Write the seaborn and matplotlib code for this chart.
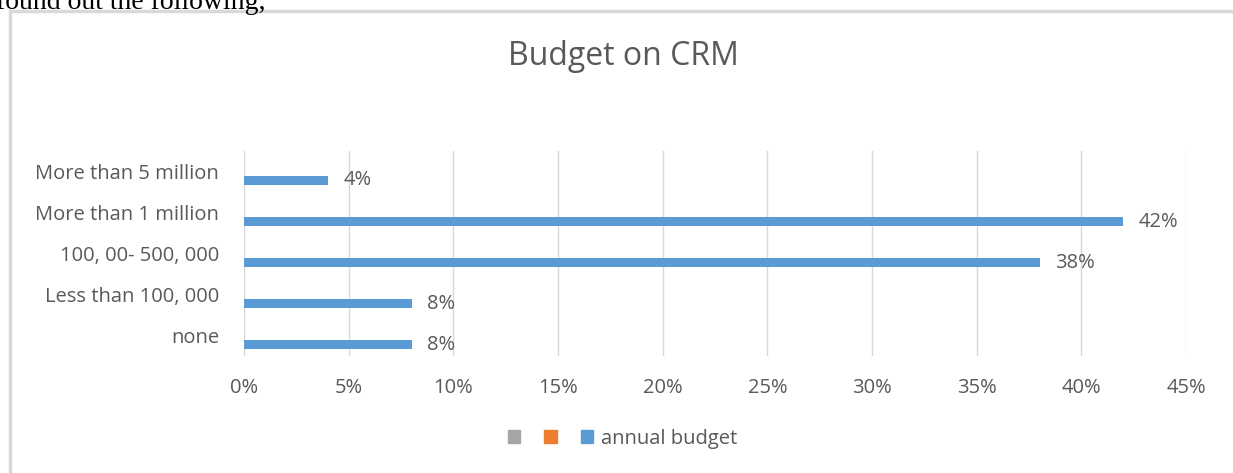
import pandas as pd
import seaborn as sns
import matplotlib.pyplot as plt
import matplotlib.patches as mpatches
from matplotlib.ticker import PercentFormatter

categories = ["More than 5 million", "More than 1 million", "100, 00- 500, 000",
              "Less than 100, 000", "none"]
annual_budget = [4, 42, 38, 8, 8]
series_names = ["Series 1", "Series 2", "annual budget"]

rows = []
for cat, val in zip(categories, annual_budget):
    rows.append({"category": cat, "series": "Series 1", "value": 0})
    rows.append({"category": cat, "series": "Series 2", "value": 0})
    rows.append({"category": cat, "series": "annual budget", "value": val})
df = pd.DataFrame(rows)

sns.set_theme(style="white")
plt.rcParams['font.family'] = ['Open Sans', 'DejaVu Sans']
text_col = "#595959"
colors = ["#a5a5a5", "#ed7d31", "#5b9bd5"]

fig = plt.figure(figsize=(12.33, 4.73), dpi=100)
ax = fig.add_axes([0.198, 0.247, 0.764, 0.434])

sns.barplot(data=df, y="category", x="value", hue="series", hue_order=series_names,
            palette=colors, saturation=1, orient="h", width=0.66, linewidth=0,
            ax=ax, legend=False)

ax.set_xlim(0, 45)
ax.set_xticks(range(0, 46, 5))
ax.xaxis.set_major_formatter(PercentFormatter(decimals=0))
ax.grid(axis="x", color="#d9d9d9", linewidth=1)
ax.set_axisbelow(True)
for s in ax.spines.values():
    s.set_visible(False)
ax.set_xlabel("")
ax.set_ylabel("")
ax.tick_params(axis="both", length=0, labelsize=14.5, labelcolor=text_col)
ax.tick_params(axis="x", pad=16)
ax.tick_params(axis="y", pad=18)

# data labels on the annual budget bars only
ax.bar_label(ax.containers[2], fmt="%d%%", padding=11, fontsize=14.5, color=text_col)

fig.text(0.506, 0.88, "Budget on CRM", ha="center", va="center", fontsize=23, color=text_col)

handles = [mpatches.Patch(color=c) for c in colors]
fig.legend(handles, ["", "", "annual budget"], loc="center", bbox_to_anchor=(0.505, 0.072),
           ncol=3, frameon=False, fontsize=14.5, handlelength=0.6, handleheight=0.6,
           columnspacing=0.8, handletextpad=0.4, labelcolor=text_col)

# outer chart frame and the cut-off sentence above it
fig.add_artist(mpatches.Rectangle((10 / 1233, -0.01), 1.0, 1 - 11 / 473 + 0.01,
                                  transform=fig.transFigure, fill=False,
                                  edgecolor="#d9d9d9", linewidth=2.5))
fig.text(-0.003, 0.995, "found out the following,", ha="left", va="center",
         fontsize=20, family="Liberation Serif", color="black")

fig.savefig("out.png", dpi=100)
